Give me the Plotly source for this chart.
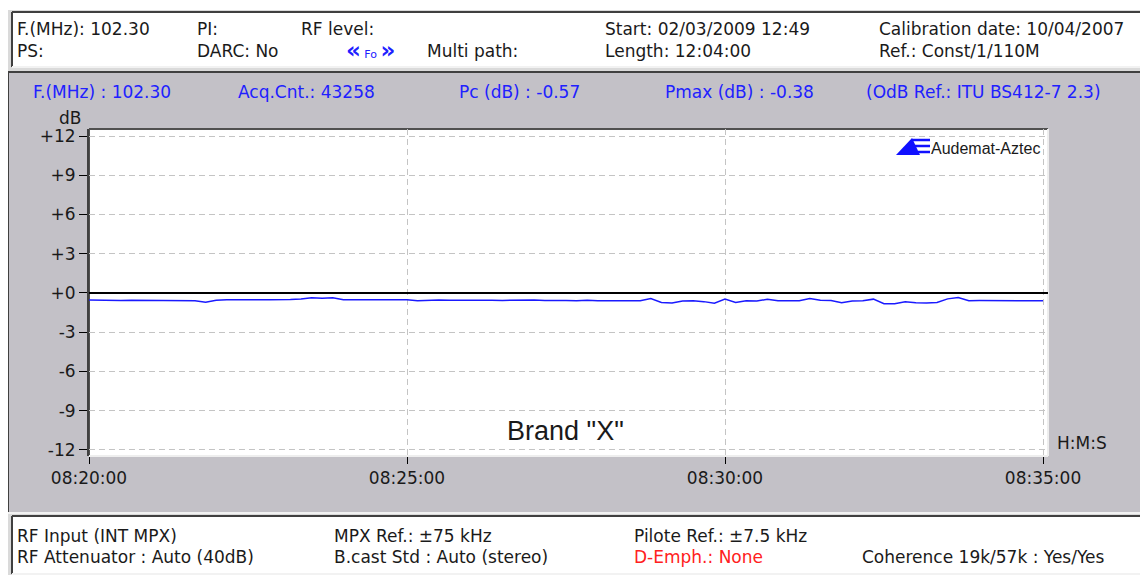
import pandas as pd
import plotly.graph_objects as go

# level readings every 10 s from 08:20:00 to 08:35:00 (dB)
start_time = "2009-03-02 08:20:00"
level_db = [
    -0.54, -0.57, -0.55, -0.58, -0.56, -0.56, -0.55, -0.58, -0.56, -0.57,
    -0.60, -0.70, -0.56, -0.51, -0.53, -0.50, -0.52, -0.51, -0.53, -0.50,
    -0.45, -0.37, -0.40, -0.36, -0.51, -0.51, -0.50, -0.52, -0.51, -0.52,
    -0.51, -0.60, -0.55, -0.53, -0.55, -0.54, -0.56, -0.53, -0.55, -0.57,
    -0.54, -0.56, -0.53, -0.58, -0.55, -0.57, -0.59, -0.56, -0.60, -0.61,
    -0.59, -0.63, -0.60, -0.42, -0.72, -0.77, -0.62, -0.60, -0.66, -0.78,
    -0.47, -0.72, -0.60, -0.62, -0.48, -0.60, -0.61, -0.59, -0.43, -0.56,
    -0.57, -0.75, -0.61, -0.60, -0.47, -0.82, -0.83, -0.67, -0.75, -0.77,
    -0.73, -0.45, -0.35, -0.59, -0.58, -0.59, -0.60, -0.59, -0.58, -0.59,
    -0.59,
]
times = pd.date_range(start_time, periods=len(level_db), freq="10s")

y_ticks = [-12, -9, -6, -3, 0, 3, 6, 9, 12]
y_labels = ["-12", "-9", "-6", "-3", "+0", "+3", "+6", "+9", "+12"]
x_ticks = ["2009-03-02 08:20:00", "2009-03-02 08:25:00",
           "2009-03-02 08:30:00", "2009-03-02 08:35:00"]
x_labels = ["08:20:00", "08:25:00", "08:30:00", "08:35:00"]

header_row1 = [("F.(MHz): 102.30", 17), ("PI:", 197), ("RF level:", 301),
               ("Start: 02/03/2009 12:49", 605), ("Calibration date: 10/04/2007", 879)]
header_row2 = [("PS:", 17), ("DARC: No", 197), ("Multi path:", 427),
               ("Length: 12:04:00", 605), ("Ref.: Const/1/110M", 879)]
info_row = [("F.(MHz) : 102.30", 33), ("Acq.Cnt.: 43258", 238), ("Pc (dB) : -0.57", 459),
            ("Pmax (dB) : -0.38", 665), ("(OdB Ref.: ITU BS412-7 2.3)", 866)]
footer_row1 = [("RF Input (INT MPX)", 17), ("MPX Ref.: ±75 kHz", 334),
               ("Pilote Ref.: ±7.5 kHz", 634)]
footer_row2 = [("RF Attenuator : Auto (40dB)", 17), ("B.cast Std : Auto (stereo)", 334),
               ("D-Emph.: None", 634), ("Coherence 19k/57k : Yes/Yes", 862)]

# the page body adds an 8px margin, so the figure is drawn 8px smaller
PAGE_W, PAGE_H, OFF = 1148, 575, 8
W, H = PAGE_W - OFF, PAGE_H - OFF
ML, MT = 89 - OFF, 129 - OFF
MR, MB = PAGE_W - 1048, PAGE_H - 456
PW, PH = W - ML - MR, H - MT - MB

FONT = "DejaVu Sans, Liberation Sans, Arial, sans-serif"
TXT = "#1a1a1a"
BLUE = "#2020ff"
PANEL = "#c3c1c7"


# page pixel -> paper coordinate
def px(x):
    return (x - OFF - ML) / PW


def py(y):
    return (H - MB - (y - OFF)) / PH


shapes = []
annotations = []


def box(x0, y0, x1, y1, fill, dark="#404040", light="#f2f2f2"):
    shapes.append(dict(type="rect", xref="paper", yref="paper", layer="below",
                       x0=px(x0), x1=px(x1), y0=py(y1), y1=py(y0),
                       fillcolor=fill, line=dict(width=0)))
    for (a, b, c, d, col) in [(x0, y0, x1, y0, dark), (x0, y0, x0, y1, dark),
                              (x0, y1, x1, y1, light), (x1, y0, x1, y1, light)]:
        shapes.append(dict(type="line", xref="paper", yref="paper", layer="below",
                           x0=px(a), x1=px(c), y0=py(b), y1=py(d),
                           line=dict(color=col, width=2)))


def text(s, x, y, color=TXT, size=17, anchor="left", family=FONT):
    if anchor == "left":
        x -= 2
    annotations.append(dict(text=s, x=px(x), y=py(y), xref="paper", yref="paper",
                            xanchor=anchor, yanchor="middle", showarrow=False,
                            font=dict(family=family, size=size, color=color)))


# page frame and boxes
shapes.append(dict(type="rect", xref="paper", yref="paper", layer="below",
                   x0=px(0), x1=px(PAGE_W), y0=py(10), y1=py(0),
                   fillcolor="white", line=dict(width=0)))
box(12, 12, 1142, 67, "white")
box(8, 72, 1146, 513, PANEL)
box(89, 129, 1048, 456, "white", dark="#505050", light="#eeeeee")
box(12, 516, 1142, 574, "white")

for s, x in header_row1:
    text(s, x, 29)
for s, x in header_row2:
    text(s, x, 51)
text("<b>«</b><span style='font-size:11px'> Fo </span><b>»</b>", 346, 50, color=BLUE, size=23)
for s, x in info_row:
    text(s, x, 92, color=BLUE)
for s, x in footer_row1:
    text(s, x, 536)
for s, x in footer_row2:
    text(s, x, 557, color="#ff2020" if s.startswith("D-Emph") else TXT)

text("dB", 70, 118, anchor="center")
text("H:M:S", 1057, 443)
text('Brand "X"', 565, 431, size=27, anchor="center",
     family="Liberation Sans, Arial, sans-serif")

# logo
shapes.append(dict(type="path", xref="paper", yref="paper",
                   path=f"M {px(896)},{py(155)} L {px(912)},{py(138)} L {px(920)},{py(155)} Z",
                   fillcolor="#1010ff", line=dict(width=0)))
for yy, xa in [(140, 912), (146, 915), (152, 918)]:
    shapes.append(dict(type="line", xref="paper", yref="paper",
                       x0=px(xa), x1=px(930), y0=py(yy), y1=py(yy),
                       line=dict(color="#1010ff", width=2.5)))
text("Audemat-Aztec", 931, 148, size=16,
     family="Liberation Sans, Arial, sans-serif")

fig = go.Figure()
fig.add_trace(go.Scatter(x=times, y=level_db, mode="lines",
                         line=dict(color="#1a1aff", width=1.5),
                         hovertemplate="%{x|%H:%M:%S}<br>%{y:.2f} dB<extra></extra>"))

fig.update_layout(
    width=W, height=H,
    margin=dict(l=ML, r=MR, t=MT, b=MB),
    paper_bgcolor="#dadada",
    plot_bgcolor="rgba(0,0,0,0)",
    showlegend=False,
    shapes=shapes,
    annotations=annotations,
    font=dict(family=FONT, size=17, color=TXT),
)
fig.update_xaxes(
    range=["2009-03-02 08:20:00", "2009-03-02 08:35:04.7"],
    tickvals=x_ticks, ticktext=x_labels,
    showgrid=True, gridcolor="#c4c4c4", griddash="6px,4px", gridwidth=1,
    ticks="outside", ticklen=7, tickcolor="#000000", tickwidth=1,
    showline=False, zeroline=False,
    tickfont=dict(family=FONT, size=17, color=TXT),
)
fig.update_yaxes(
    range=[-12.46, 12.535],
    tickvals=y_ticks, ticktext=y_labels,
    showgrid=True, gridcolor="#c4c4c4", griddash="6px,4px", gridwidth=1,
    ticks="outside", ticklen=8, tickcolor="#000000", tickwidth=1,
    showline=True, linecolor="#404040", linewidth=2,
    zeroline=True, zerolinecolor="#000000", zerolinewidth=1.5,
    tickfont=dict(family=FONT, size=17, color=TXT),
)

fig.write_html("out.html")
